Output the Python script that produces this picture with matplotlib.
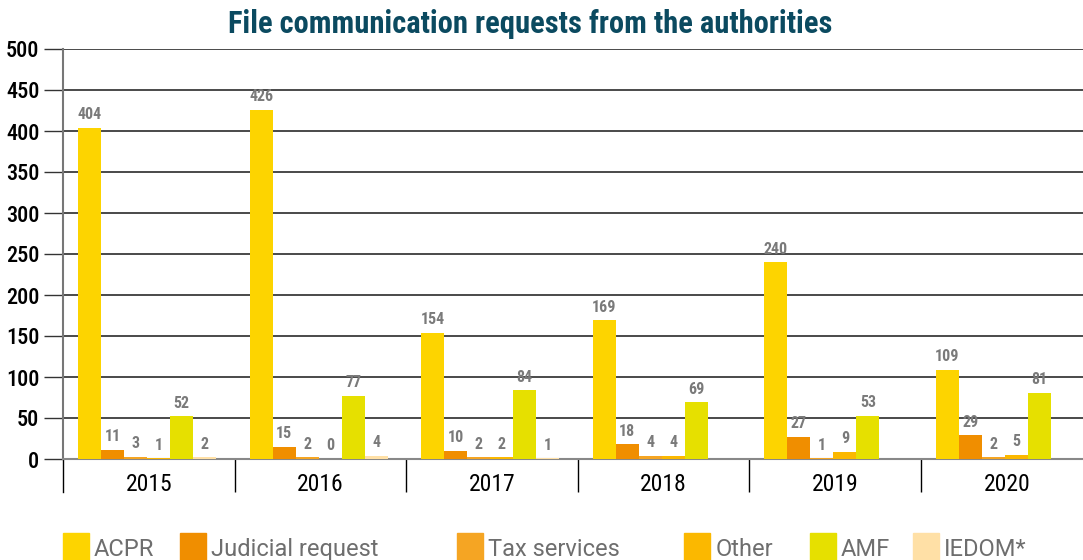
import matplotlib
matplotlib.use("Agg")
import matplotlib.pyplot as plt
from matplotlib.patches import Rectangle

cond = ["Roboto Condensed", "Barlow Condensed", "DejaVu Sans"]

years = ["2015", "2016", "2017", "2018", "2019", "2020"]
series = ["ACPR", "Judicial request", "Tax services", "Other", "AMF", "IEDOM*"]
acpr = [404, 426, 154, 169, 240, 109]
judicial = [11, 15, 10, 18, 27, 29]
tax = [3, 2, 2, 4, 1, 2]
other = [1, 0, 2, 4, 9, 5]
amf = [52, 77, 84, 69, 53, 81]
iedom = [2, 4, 1, None, None, None]
values = [acpr, judicial, tax, other, amf, iedom]
colors = ["#FDD400", "#F08E00", "#F5A523", "#FBB800", "#E6E000", "#FFE0A6"]

W, H = 1083, 560
fig = plt.figure(figsize=(W / 100, H / 100), dpi=100)
ax = fig.add_axes([63 / W, (H - 459) / H, 1 - 63 / W, 410 / H])

cat_w = 171.6          # px per category
bar_w = 23 / cat_w
offset = 15 / cat_w

for j, (name, vals, col) in enumerate(zip(series, values, colors)):
    for i, v in enumerate(vals):
        if v is None:
            continue
        x = i + offset + j * bar_w
        ax.bar(x, v, width=bar_w, align="edge", color=col, zorder=3)
        ax.annotate(str(v), (x + bar_w / 2, v), xytext=(0, 4), textcoords="offset points",
                    ha="center", va="bottom", fontsize=11.5, fontweight="bold",
                    color="#7a7a7a", family=cond, zorder=4)

ax.set_xlim(0, (W - 63) / cat_w)
ax.set_ylim(0, 500)
ax.set_yticks(range(0, 501, 50))
ax.yaxis.grid(True, color="#4a4a4a", linewidth=1.4, zorder=0)
ax.tick_params(axis="y", length=14, width=1, color="#333333", labelsize=16, pad=3)
for lab in ax.get_yticklabels():
    lab.set_family(cond)
    lab.set_fontweight("medium")

ax.set_xticks([i + 0.5 for i in range(len(years))])
ax.set_xticklabels(years, family=cond, fontsize=17)
ax.set_xticks(range(1, len(years)), minor=True)
ax.tick_params(axis="x", which="major", length=0, pad=10)
ax.tick_params(axis="x", which="minor", length=24, width=1, color="black")

for s in ["top", "right"]:
    ax.spines[s].set_visible(False)
ax.spines["left"].set_color("#777777")
ax.spines["left"].set_linewidth(1.5)
ax.spines["bottom"].set_color("#888888")
ax.spines["bottom"].set_linewidth(1.5)

# first boundary line at left edge
ax.plot([0, 0], [0, -40], color="black", lw=1, clip_on=False, zorder=1)

fig.text(0.49, (H - 33) / H, "File communication requests from the authorities",
         ha="center", va="baseline", fontsize=22, fontweight="black",
         color="#0B4A60", family=cond)

# legend
sq_x = [63, 180, 457, 684, 810, 913]
tx_x = [94, 211, 488, 716, 841, 944]
for name, col, sx, tx in zip(series, colors, sq_x, tx_x):
    fig.add_artist(Rectangle((sx / W, 0), 26 / W, (H - 533) / H,
                             transform=fig.transFigure, color=col))
    fig.text(tx / W, 4 / H, name, ha="left", va="baseline", fontsize=17,
             color="#6e6e6e", family=["Roboto", "DejaVu Sans"])

fig.savefig("out.png", dpi=100)
